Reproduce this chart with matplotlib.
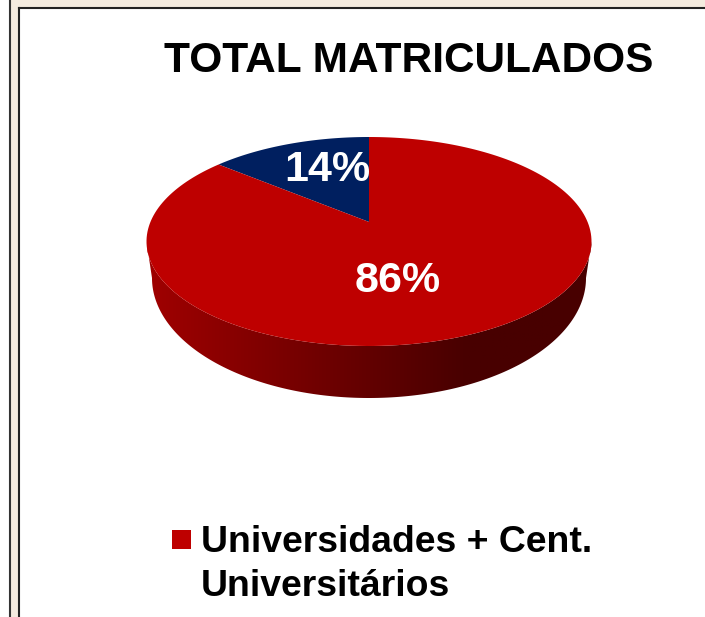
import numpy as np
import matplotlib
matplotlib.use("Agg")
import matplotlib.pyplot as plt
from matplotlib.colors import LinearSegmentedColormap
from matplotlib.patches import Polygon, Rectangle

plt.rcParams['font.family'] = ['Liberation Sans', 'DejaVu Sans']

title = "TOTAL MATRICULADOS"
slice_values = [14, 86]
slice_colors = ["#001F5F", "#BE0000"]
legend_label = "Universidades + Cent.\nUniversitários"

W, H = 705, 617
fig = plt.figure(figsize=(W / 100, H / 100), dpi=100)
ax = fig.add_axes([0, 0, 1, 1])
ax.axis("off")

# frame round the slide
beige = "#F4EBDF"
ax.add_patch(Rectangle((9, 0), W - 9, H, fc=beige, ec="none"))
ax.add_patch(Rectangle((18.5, 8), W, H, fc="white", ec="none"))
ax.plot([9.5, 9.5], [0, H], color="#333333", lw=1.5)
ax.plot([18.5, 18.5], [8, H], color="#222222", lw=1.5)
ax.plot([18.5, W], [8, 8], color="#222222", lw=1.5)

# tilted pie: top ellipse, smaller bottom ellipse for the wall
cx, cy, rx, ry = 369, 241.5, 222.5, 104.5
bot_cy, bot_rx, bot_ry = 278, 217, 120
boost = 0.187  # perspective, moves the apex up from the ellipse centre


def project(a):
    # a = clockwise angle from 12 o'clock, goes through the perspective
    u, v = np.sin(a), np.cos(a)
    d = 1 + boost * v
    return cx + rx * u * np.sqrt(1 - boost**2) / d, cy - ry * (v + boost) / d


# wall, a left to right gradient clipped to the outline
wall = LinearSegmentedColormap.from_list("wall", [(0, "#A00000"), (0.45, "#680000"), (0.72, "#480000"), (1, "#480000")])
t = np.linspace(np.pi, 0, 200)
outline = np.c_[np.r_[cx + rx * np.cos(t), cx + bot_rx * np.cos(t[::-1])],
                np.r_[cy + ry * np.sin(t), bot_cy + bot_ry * np.sin(t[::-1])]]
wall_patch = Polygon(outline, closed=True, fc="none", ec="none")
ax.add_patch(wall_patch)
im = ax.imshow(np.linspace(0, 1, 256)[None, :], cmap=wall, aspect="auto", zorder=2,
               extent=[cx - rx, cx + rx, 400, 240])
im.set_clip_path(wall_patch)

# top face, blue goes counter clockwise from 12 o'clock
apex = (cx, cy - ry * boost)
start = 0
for val, col in zip(slice_values, slice_colors):
    end = start + val / sum(slice_values) * 2 * np.pi
    ang = -np.linspace(start, end, 200)
    px, py = project(ang)
    ax.fill(np.r_[apex[0], px], np.r_[apex[1], py], fc=col, ec="none", zorder=3)
    start = end

ax.text(327, 170, f"{slice_values[0]}%", color="white", fontsize=31, fontweight="bold", ha="center", va="center", zorder=4)
ax.text(398, 281, f"{slice_values[1]}%", color="white", fontsize=31, fontweight="bold", ha="center", va="center", zorder=4)

ax.text(409, 61, title, color="black", fontsize=30.5, fontweight="bold", ha="center", va="center")

ax.add_patch(Rectangle((172, 530), 19, 19, fc=slice_colors[1], ec="none"))
ax.text(201, 564.5, legend_label, color="black", fontsize=26.9, fontweight="bold", ha="left", va="center", linespacing=1.3)

ax.set_xlim(0, W)
ax.set_ylim(H, 0)
fig.savefig("out.png", dpi=100)
